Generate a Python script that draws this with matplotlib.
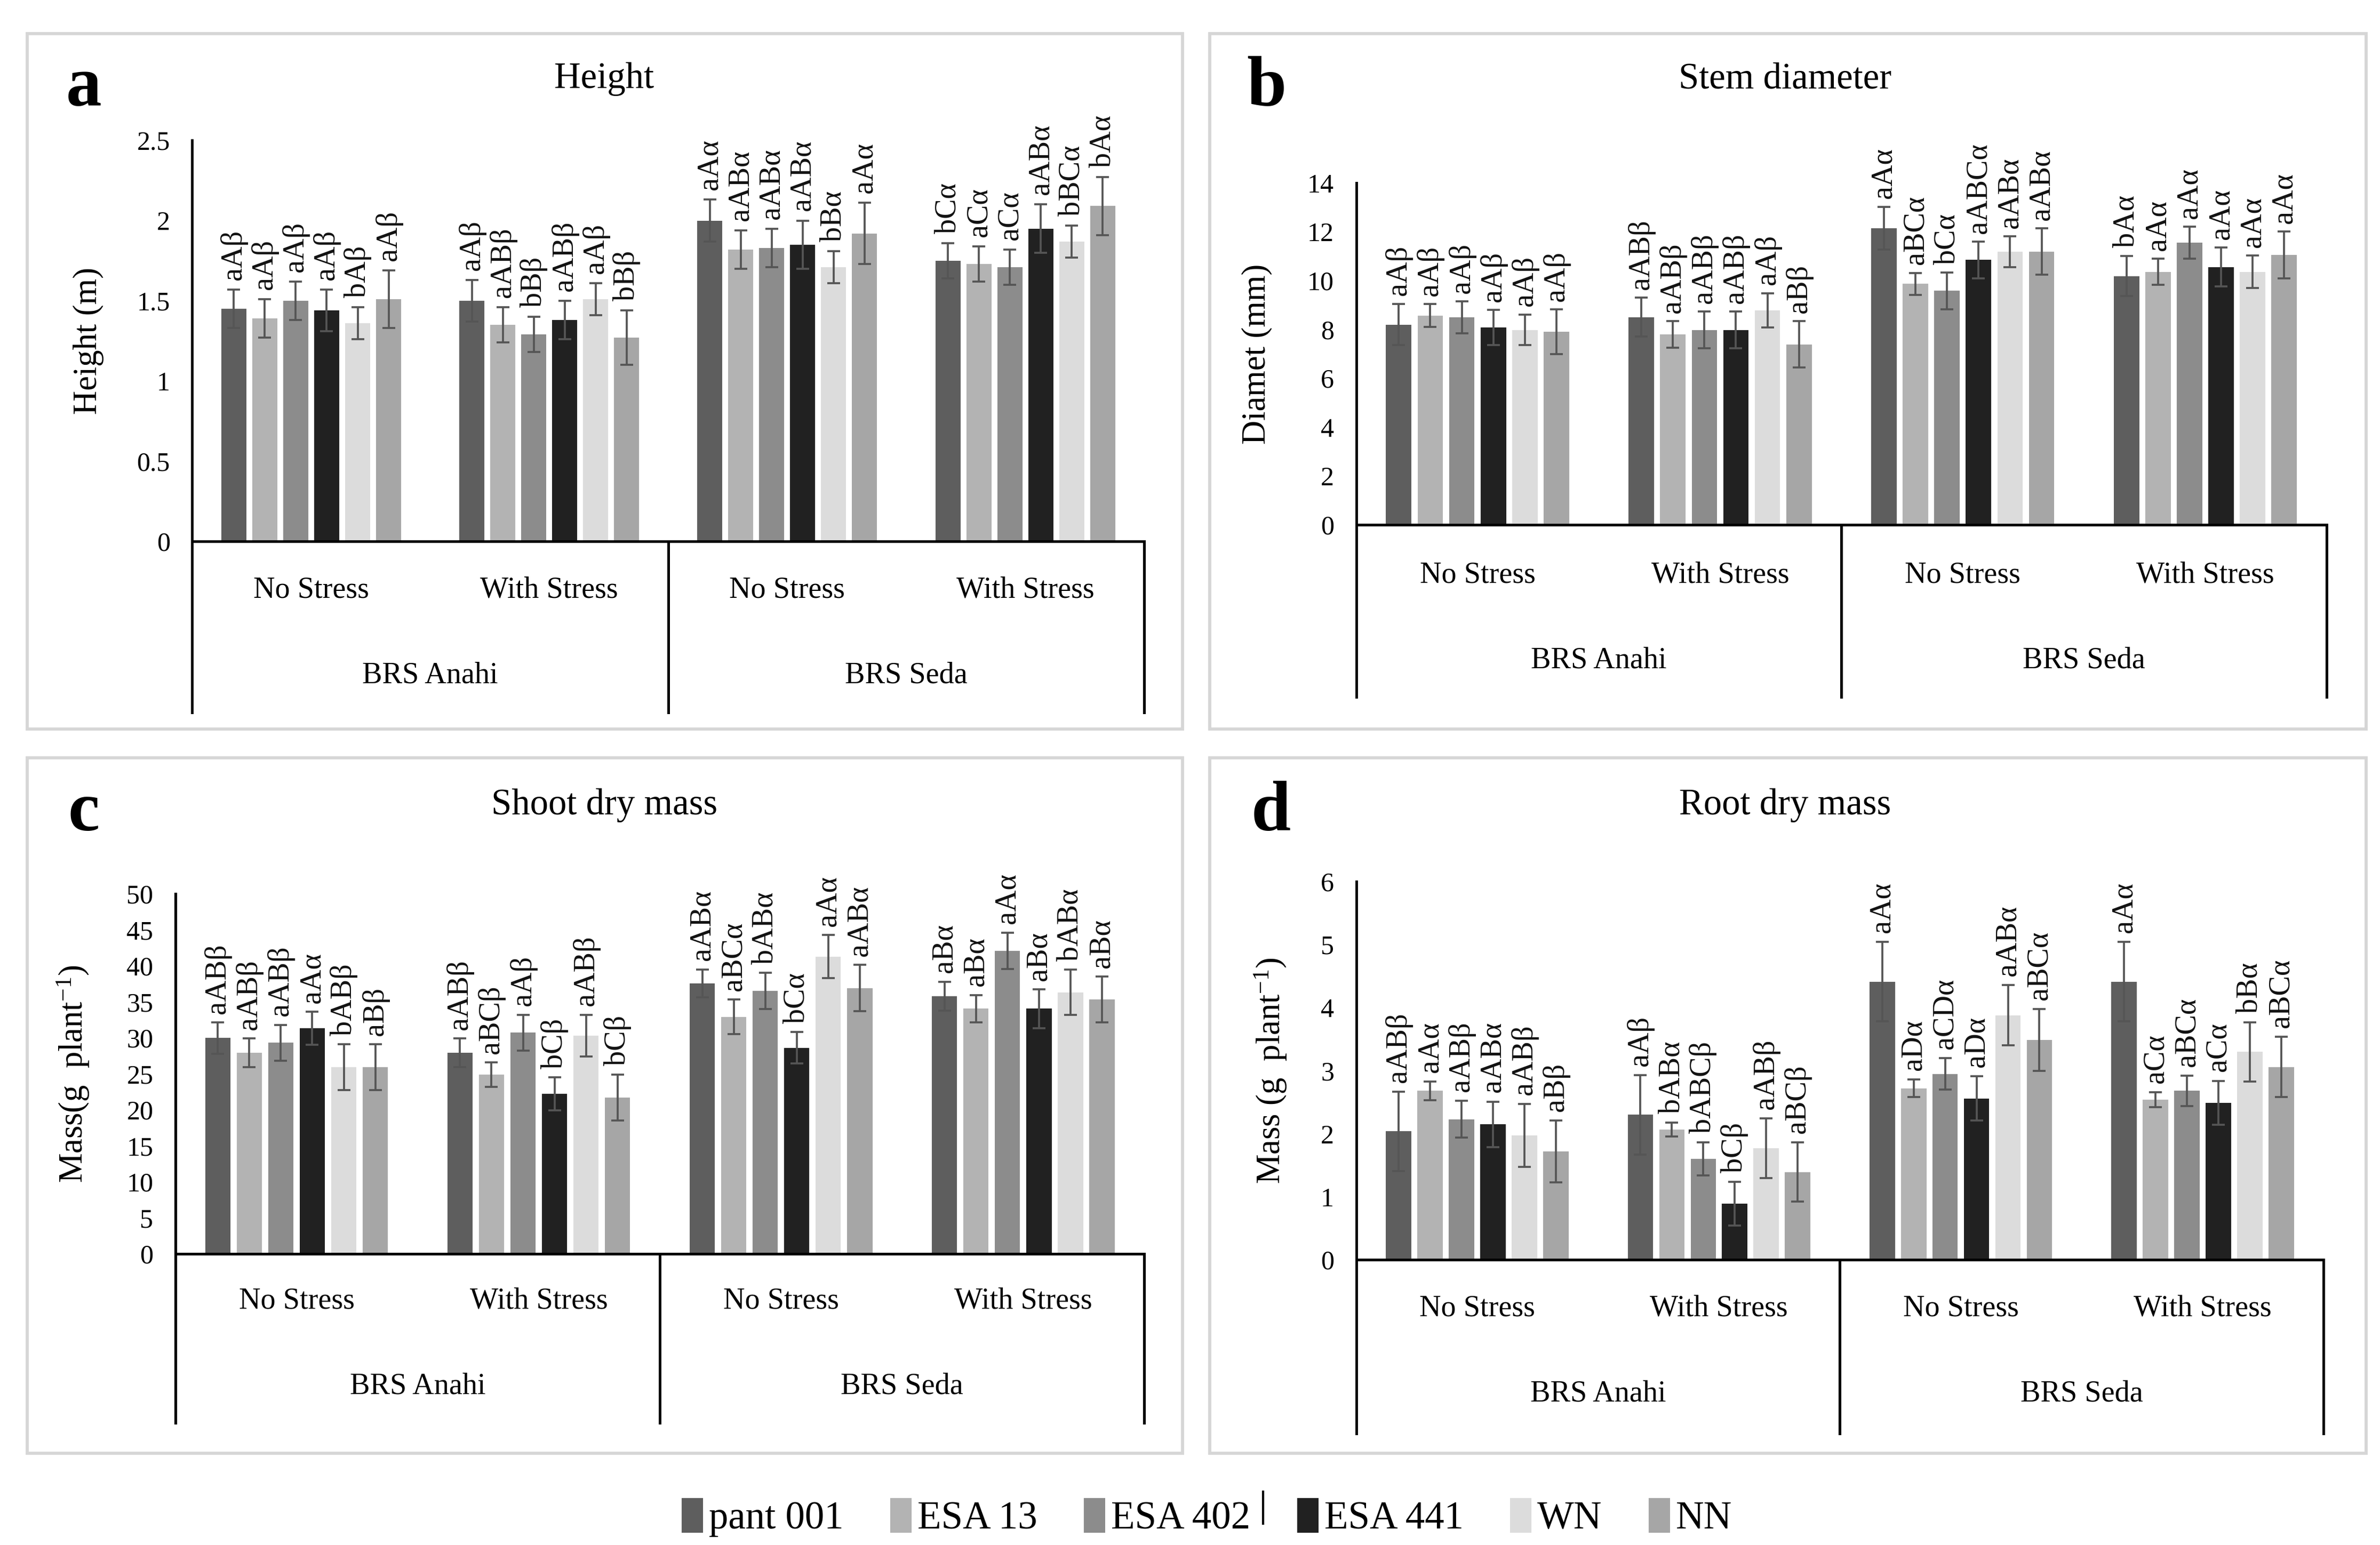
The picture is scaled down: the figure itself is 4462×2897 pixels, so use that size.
import matplotlib
matplotlib.use('Agg')
import matplotlib.pyplot as plt
from matplotlib.patches import Rectangle, Patch
from matplotlib.lines import Line2D
from matplotlib.transforms import blended_transform_factory
import numpy as np

plt.rcParams['font.family'] = ['Liberation Serif', 'DejaVu Serif']
plt.rcParams['mathtext.fontset'] = 'custom'
plt.rcParams['mathtext.rm'] = 'Liberation Serif'
plt.rcParams['mathtext.it'] = 'Liberation Serif:italic'

# ---------------- data ----------------
series = ['pant 001', 'ESA 13', 'ESA 402', 'ESA 441', 'WN', 'NN']
colors = ['#5e5e5e', '#b3b3b3', '#8c8c8c', '#212121', '#dcdcdc', '#a6a6a6']
conditions = ['No Stress', 'With Stress', 'No Stress', 'With Stress']
cultivars = ['BRS Anahi', 'BRS Seda']

# rows = condition groups (Anahi NS, Anahi WS, Seda NS, Seda WS), cols = series
height_mean = [[1.45, 1.39, 1.50, 1.44, 1.36, 1.51],
               [1.50, 1.35, 1.29, 1.38, 1.51, 1.27],
               [2.00, 1.82, 1.83, 1.85, 1.71, 1.92],
               [1.75, 1.73, 1.71, 1.95, 1.87, 2.09]]
height_err = [[0.12, 0.12, 0.12, 0.13, 0.10, 0.18],
              [0.13, 0.11, 0.11, 0.12, 0.10, 0.17],
              [0.13, 0.12, 0.12, 0.15, 0.10, 0.19],
              [0.11, 0.11, 0.11, 0.15, 0.10, 0.18]]
height_lab = [['aAβ', 'aAβ', 'aAβ', 'aAβ', 'bAβ', 'aAβ'],
              ['aAβ', 'aABβ', 'bBβ', 'aABβ', 'aAβ', 'bBβ'],
              ['aAα', 'aABα', 'aABα', 'aABα', 'bBα', 'aAα'],
              ['bCα', 'aCα', 'aCα', 'aABα', 'bBCα', 'bAα']]

stem_mean = [[8.20, 8.57, 8.50, 8.08, 7.98, 7.90],
             [8.50, 7.79, 7.98, 7.98, 8.79, 7.39],
             [12.15, 9.87, 9.58, 10.85, 11.19, 11.19],
             [10.19, 10.36, 11.56, 10.56, 10.36, 11.05]]
stem_err = [[0.85, 0.47, 0.65, 0.72, 0.63, 0.92],
            [0.80, 0.55, 0.75, 0.75, 0.70, 0.95],
            [0.88, 0.45, 0.75, 0.75, 0.63, 0.95],
            [0.83, 0.53, 0.65, 0.79, 0.67, 0.96]]
stem_lab = [['aAβ', 'aAβ', 'aAβ', 'aAβ', 'aAβ', 'aAβ'],
            ['aABβ', 'aABβ', 'aABβ', 'aABβ', 'aAβ', 'aBβ'],
            ['aAα', 'aBCα', 'bCα', 'aABCα', 'aABα', 'aABα'],
            ['bAα', 'aAα', 'aAα', 'aAα', 'aAα', 'aAα']]

shoot_mean = [[29.95, 27.9, 29.3, 31.3, 25.9, 25.9],
              [27.9, 24.9, 30.7, 22.2, 30.3, 21.7],
              [37.55, 32.9, 36.5, 28.6, 41.25, 36.9],
              [35.8, 34.05, 42.06, 34.05, 36.3, 35.3]]
shoot_err = [[2.2, 2.0, 2.5, 2.3, 3.2, 3.2],
             [2.0, 1.7, 2.5, 2.3, 2.9, 3.2],
             [1.95, 2.4, 2.5, 2.2, 3.0, 3.2],
             [2.0, 1.9, 2.55, 2.7, 3.16, 3.2]]
shoot_lab = [['aABβ', 'aABβ', 'aABβ', 'aAα', 'bABβ', 'aBβ'],
             ['aABβ', 'aBCβ', 'aAβ', 'bCβ', 'aABβ', 'bCβ'],
             ['aABα', 'aBCα', 'bABα', 'bCα', 'aAα', 'aABα'],
             ['aBα', 'aBα', 'aAα', 'aBα', 'bABα', 'aBα']]

root_mean = [[2.04, 2.68, 2.23, 2.15, 1.97, 1.72],
             [2.30, 2.07, 1.60, 0.89, 1.77, 1.39],
             [4.41, 2.72, 2.95, 2.56, 3.88, 3.49],
             [4.41, 2.54, 2.68, 2.49, 3.30, 3.06]]
root_err = [[0.63, 0.15, 0.29, 0.36, 0.50, 0.49],
            [0.63, 0.11, 0.26, 0.35, 0.47, 0.47],
            [0.63, 0.14, 0.25, 0.35, 0.48, 0.49],
            [0.63, 0.12, 0.24, 0.35, 0.47, 0.48]]
root_lab = [['aABβ', 'aAα', 'aABβ', 'aABα', 'aABβ', 'aBβ'],
            ['aAβ', 'bABα', 'bABCβ', 'bCβ', 'aABβ', 'aBCβ'],
            ['aAα', 'aDα', 'aCDα', 'aDα', 'aABα', 'aBCα'],
            ['aAα', 'aCα', 'aBCα', 'aCα', 'bBα', 'aBCα']]

height_ticks = [0, 0.5, 1, 1.5, 2, 2.5]
height_ticklabels = ['0', '0.5', '1', '1.5', '2', '2.5']
stem_ticks = [0, 2, 4, 6, 8, 10, 12, 14]
shoot_ticks = [0, 5, 10, 15, 20, 25, 30, 35, 40, 45, 50]
root_ticks = [0, 1, 2, 3, 4, 5, 6]

# ---------------- layout ----------------
W, H = 4462, 2897
DW, DH = 1560.0, 1013.0
fig = plt.figure(figsize=(W / 300, H / 300), dpi=300)
fig.patch.set_facecolor('white')


def fx(x):
    return x / DW


def fy(y):
    return 1 - y / DH


def panel(letter, title, ylabel, means, errs, labels, ticks, ticklabels,
          box, axr, line_bottom, sub_y, grp_y, title_xy, letter_xy, ylabel_x):
    x0, x1, y0, y1 = box
    fig.add_artist(Rectangle((fx(x0), fy(y1)), fx(x1) - fx(x0), fy(y0) - fy(y1),
                             transform=fig.transFigure, fill=False,
                             edgecolor='#d6d6d6', lw=1.4))
    l, r, t, b = axr
    ax = fig.add_axes([fx(l), fy(b), fx(r) - fx(l), fy(t) - fy(b)])
    ax.set_facecolor('none')
    means = np.array(means)
    errs = np.array(errs)
    ymax = ticks[-1]
    ax.set_xlim(-0.5, 3.5)
    ax.set_ylim(0, ymax)
    cats = np.arange(len(conditions))
    for i, s in enumerate(series):
        xs = cats + (i - 2.5) * 0.13
        ax.bar(xs, means[:, i], width=0.105, color=colors[i], zorder=2, label=s)
        ax.errorbar(xs, means[:, i], yerr=errs[:, i], fmt='none', ecolor='#555555',
                    elinewidth=0.9, capsize=2.8, capthick=0.9, zorder=3)
        for j in range(len(conditions)):
            ax.text(xs[j], means[j, i] + errs[j, i] + ymax * 0.024, labels[j][i],
                    rotation=90, ha='center', va='bottom', fontsize=13.5,
                    color='#111111')
    for sp in ['top', 'right']:
        ax.spines[sp].set_visible(False)
    for sp in ['left', 'bottom']:
        ax.spines[sp].set_linewidth(1.2)
        ax.spines[sp].set_color('black')
    ax.set_yticks(ticks)
    ax.set_yticklabels(ticklabels)
    ax.set_xticks([])
    ax.tick_params(axis='y', length=0, labelsize=12, pad=10)
    trans = blended_transform_factory(ax.transData, fig.transFigure)
    for xv in [-0.5, 1.5, 3.5]:
        fig.add_artist(Line2D([xv, xv], [fy(b), fy(line_bottom)], transform=trans,
                              color='black', lw=1.2))
    for j, c in enumerate(conditions):
        ax.text(j, fy(sub_y), c, transform=trans, ha='center', va='center',
                fontsize=13.5)
    for k, cv in enumerate(cultivars):
        ax.text(0.5 + 2 * k, fy(grp_y), cv, transform=trans, ha='center',
                va='center', fontsize=13.5)
    fig.text(fx(ylabel_x), fy((t + b) / 2), ylabel, rotation=90, ha='center',
             va='center', fontsize=15)
    fig.text(fx(title_xy[0]), fy(title_xy[1]), title, ha='center', va='center',
             fontsize=16.5)
    fig.text(fx(letter_xy[0]), fy(letter_xy[1]), letter, ha='center', va='center',
             fontsize=32, fontweight='bold')
    return ax


panel('a', 'Height', 'Height (m)', height_mean, height_err, height_lab,
      height_ticks, height_ticklabels,
      (18, 775, 22, 478), (126, 750, 92, 355), 467, 387, 443,
      (396, 52), (55, 58), 58)
panel('b', 'Stem diameter', 'Diamet (mm)', stem_mean, stem_err, stem_lab,
      stem_ticks, [str(v) for v in stem_ticks],
      (793, 1551, 22, 478), (889, 1525, 120, 344), 457, 377, 433,
      (1170, 52), (830, 58), 824)
panel('c', 'Shoot dry mass', r'Mass(g  plant$^{-1}$)', shoot_mean, shoot_err, shoot_lab,
      shoot_ticks, [str(v) for v in shoot_ticks],
      (18, 775, 497, 953), (115, 750, 586, 822), 933, 853, 909,
      (396, 528), (55, 533), 48)
panel('d', 'Root dry mass', r'Mass (g  plant$^{-1}$)', root_mean, root_err, root_lab,
      root_ticks, [str(v) for v in root_ticks],
      (793, 1551, 497, 953), (889, 1523, 578, 826), 940, 858, 914,
      (1170, 528), (833, 533), 833)

handles = [Patch(facecolor=c, edgecolor='none', label=s) for s, c in zip(series, colors)]
fig.legend(handles=handles, loc='center', bbox_to_anchor=(fx(791), fy(995)), ncol=6,
           frameon=False, fontsize=17.5, handlelength=0.55, handleheight=1.0,
           handletextpad=0.15, columnspacing=1.2)
fig.add_artist(Line2D([fx(828), fx(828)], [fy(978), fy(999)], transform=fig.transFigure,
                      color='black', lw=1.0))

fig.savefig('out.png', dpi=300, facecolor='white')
